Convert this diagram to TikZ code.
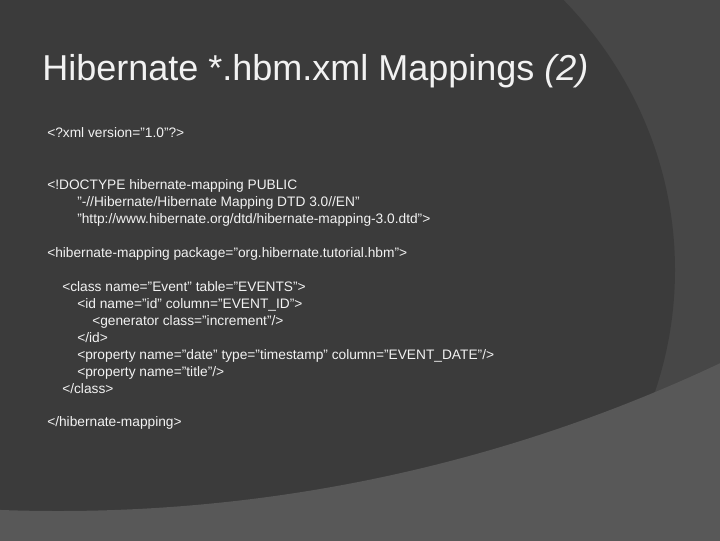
\documentclass[tikz,border=0pt]{standalone}
\usepackage{fontspec}
\setmainfont[Ligatures=NoCommon]{Liberation Sans}
\usetikzlibrary{positioning}
\definecolor{slidemid}{HTML}{474747}
\definecolor{slidedark}{HTML}{3B3B3B}
\definecolor{slideband}{HTML}{585858}
\definecolor{slidetext}{HTML}{F2F2F2}
\newcommand{\dq}{\symbol{34}}
\begin{document}
\begin{tikzpicture}[
  x=0.75pt, y=-0.75pt,
  title/.style={font=\fontsize{27}{31}\selectfont, text=slidetext, anchor=base west, inner sep=0pt},
  code/.style={font=\fontsize{10.3}{12}\selectfont, text=slidetext, anchor=base west, inner sep=0pt}
]
\useasboundingbox (0,0) rectangle (720,540);
\begin{scope}
  \clip (-1,-1) rectangle (721,541);
  \fill[slidemid] (-2,-2) rectangle (722,542);
  \fill[slidedark] (250,270) ellipse [x radius=425, y radius=400];
  \fill[slideband, even odd rule] (-2,-2) rectangle (722,542) (58,-1042) circle [radius=1553];
\end{scope}

\node (head) [title] at (42,80) {Hibernate *.hbm.xml Mappings \textit{(2)}};

\node (xmldecl) [code] at (47,137) {<?xml version=\dq1.0\dq?>};
\node (doctype) [code] at (47,189) {<!DOCTYPE hibernate-mapping PUBLIC};
\node (dtdname) [code] at (77,206) {\dq-//Hibernate/Hibernate Mapping DTD 3.0//EN\dq};
\node (dtdurl) [code] at (77,223) {\dq http://www.hibernate.org/dtd/hibernate-mapping-3.0.dtd\dq>};
\node (mapopen) [code] at (47,257) {<hibernate-mapping package=\dq org.hibernate.tutorial.hbm\dq>};
\node (classopen) [code] at (62,291) {<class name=\dq Event\dq{} table=\dq EVENTS\dq>};
\node (idopen) [code] at (77,308) {<id name=\dq id\dq{} column=\dq EVENT\_ID\dq>};
\node (generator) [code] at (92,325) {<generator class=\dq increment\dq/>};
\node (idclose) [code] at (77,342) {</id>};
\node (propdate) [code] at (77,359) {<property name=\dq date\dq{} type=\dq timestamp\dq{} column=\dq EVENT\_DATE\dq/>};
\node (proptitle) [code] at (77,376) {<property name=\dq title\dq/>};
\node (classclose) [code] at (62,393) {</class>};
\node (mapclose) [code] at (47,426) {</hibernate-mapping>};
\end{tikzpicture}
\end{document}
